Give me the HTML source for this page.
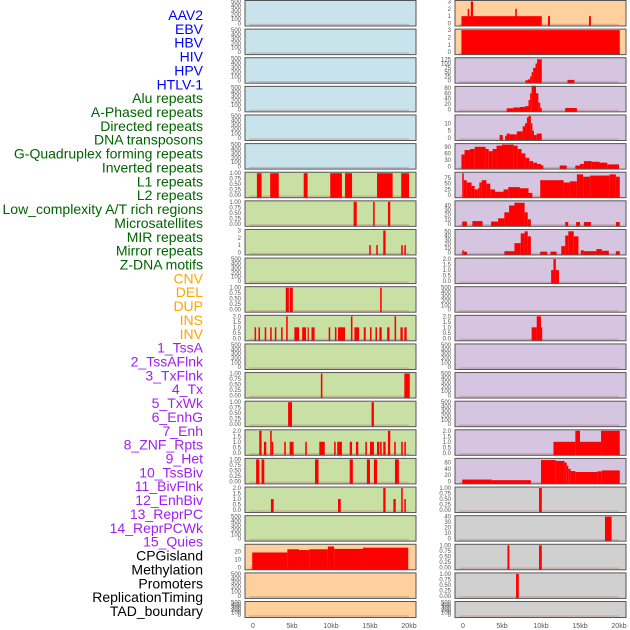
<!DOCTYPE html>
<html><head><meta charset="utf-8">
<style>
html,body{margin:0;padding:0;background:#fff;}
svg{display:block;font-family:"Liberation Sans",sans-serif;}
</style></head>
<body>
<svg id="chart" width="630" height="630" viewBox="0 0 630 630" xmlns="http://www.w3.org/2000/svg"></svg>
<script>
// ---- labels ----
const labelNames = ["AAV2","EBV","HBV","HIV","HPV","HTLV-1","Alu repeats","A-Phased repeats","Directed repeats","DNA transposons","G-Quadruplex forming repeats","Inverted repeats","L1 repeats","L2 repeats","Low_complexity A/T rich regions","Microsatellites","MIR repeats","Mirror repeats","Z-DNA motifs","CNV","DEL","DUP","INS","INV","1_TssA","2_TssAFlnk","3_TxFlnk","4_Tx","5_TxWk","6_EnhG","7_Enh","8_ZNF_Rpts","9_Het","10_TssBiv","11_BivFlnk","12_EnhBiv","13_ReprPC","14_ReprPCWk","15_Quies","CPGisland","Methylation","Promoters","ReplicationTiming","TAD_boundary"];
const labelColors = ["#0000ff","#0000ff","#0000ff","#0000ff","#0000ff","#0000ff","#006400","#006400","#006400","#006400","#006400","#006400","#006400","#006400","#006400","#006400","#006400","#006400","#006400","#ffa500","#ffa500","#ffa500","#ffa500","#ffa500","#a020f0","#a020f0","#a020f0","#a020f0","#a020f0","#a020f0","#a020f0","#a020f0","#a020f0","#a020f0","#a020f0","#a020f0","#a020f0","#a020f0","#a020f0","#000","#000","#000","#000","#000"];

// ---- x axis ----
const xTickValues = [0,5,10,15,20];
const xTickLabels = ["0","5kb","10kb","15kb","20kb"];

// ---- y-axis tick sets ----
const ticksEmpty = [0,100,200,300,400,500];
const ticksUnit = [0,0.25,0.5,0.75,1];
const ticksTwo = [0,0.5,1,1.5,2];
const ticksThree = [0,1,2,3];

// ---- left column segments [startKb, endKb, value] ----
const segL7 = [[0.5,1.1,1],[2.2,3.3,1],[6.5,7.0,1],[9.9,11.4,1],[11.8,12.7,1],[15.9,17.9,1],[19.0,20.0,1]];
const segL8 = [[12.9,13.3,1],[15.4,15.6,1],[17.3,17.6,1]];
const segL9 = [[14.9,15.1,1],[15.8,16.0,1],[16.7,17.0,3],[19.0,19.2,1],[19.4,19.6,1]];
const segL11 = [[4.2,4.6,1],[4.7,5.1,1],[16.3,16.5,1]];
const segL12 = [[0.2,0.4,1],[0.7,0.9,1],[1.5,1.7,1],[2.2,2.4,1],[2.8,3.0,1],[3.6,3.8,1],[4.25,4.45,2],[5.3,5.9,1],[6.3,6.8,1],[7.0,7.15,1],[7.5,7.9,1],[9.7,9.9,1],[10.5,10.7,1],[10.9,11.8,1],[12.55,12.75,2],[13.0,13.6,1],[14.2,14.45,1],[15.0,15.2,1],[15.7,15.9,1],[16.2,16.5,1],[17.2,17.5,1],[18.15,18.35,2],[18.9,19.2,1],[19.4,19.7,1]];
const segL14 = [[8.7,8.9,1],[19.4,20.1,1]];
const segL15 = [[4.5,5.0,1],[15.2,15.5,1]];
const segL16 = [[0.8,1.1,2],[1.4,1.7,1],[2.2,2.4,2],[2.4,2.6,1],[4.0,4.2,1],[4.7,5.2,1],[6.7,6.9,1],[8.5,9.2,1],[10.4,10.6,1],[10.8,11.4,1],[12.4,12.7,1],[13.2,13.5,1],[14.4,14.6,1],[15.0,15.5,1],[15.9,16.2,1],[16.3,16.5,1],[16.7,17.0,1],[17.3,17.6,2],[18.1,18.3,1],[19.0,19.2,1],[19.4,19.6,1]];
const segL17 = [[0.4,0.8,1],[1.1,1.45,1],[7.95,8.4,1],[12.4,12.8,1],[14.6,15.0,1],[15.5,15.9,1],[18.2,18.7,1]];
const segL18 = [[2.3,2.65,1],[10.9,11.25,1],[16.7,17.0,2],[18.0,18.3,1],[19.0,19.2,2],[19.4,19.6,1]];
const segL20 = [[-0.1,4.4,18.5],[4.4,5.9,22.5],[5.9,7.2,21.5],[7.2,9.6,22.5],[9.6,10.4,26],[10.4,14.1,23],[14.1,19.9,24.5]];

// ---- right column segments ----
const segR1 = [[-0.2,10.1,1],[0.6,0.8,2],[1.0,1.3,3],[6.7,6.9,2],[10.9,11.15,1],[16.15,16.4,1]];
const segR2 = [[-0.2,20.1,3]];
const segR3 = [[8.0,8.3,3],[8.3,8.6,8],[8.6,8.8,25],[8.8,9.0,50],[9.0,9.3,75],[9.3,9.5,100],[9.5,10.1,125],[13.4,14.3,5]];
const segR4 = [[5.6,6.45,4],[6.45,7.3,7],[7.3,7.95,9],[7.95,8.4,12],[8.4,8.6,35],[8.6,8.8,60],[8.8,9.36,88],[9.36,9.66,60],[9.66,9.9,25],[9.9,10.1,5],[13.1,14.6,5]];
const segR5 = [[4.7,5.1,2],[5.4,5.6,1.5],[5.6,6.0,3],[6.0,6.9,2.5],[6.9,7.65,4.5],[7.65,7.95,8],[7.95,8.2,10],[8.2,8.4,14],[8.4,8.7,15],[8.7,8.9,10],[8.9,9.1,5],[9.1,9.45,2],[9.45,10.1,3]];
const segR6 = [[-0.2,0.2,55],[0.2,0.9,75],[0.9,1.5,80],[1.5,2.9,90],[2.9,3.3,80],[3.3,3.8,70],[3.8,4.3,80],[4.3,5.0,95],[5.0,6.5,100],[6.5,7.0,95],[7.0,7.5,80],[7.5,8.0,60],[8.0,8.5,40],[8.5,9.0,25],[9.0,9.5,18],[9.5,10.0,12],[10.0,10.3,6],[12.4,13.3,5],[14.4,15.0,5],[15.0,15.5,12],[15.5,16.5,25],[16.5,17.5,22],[17.5,18.5,18],[18.5,20.0,10]];
const segR7 = [[-0.1,0.1,95],[0.1,0.47,65],[0.47,1.1,55],[1.1,1.5,40],[1.5,1.9,25],[1.9,2.1,30],[2.1,2.4,55],[2.4,3.0,65],[3.0,3.5,50],[3.5,4.1,25],[4.1,5.2,15],[5.2,5.8,25],[5.8,7.3,35],[7.3,8.4,30],[8.4,8.9,10],[9.9,12.9,65],[12.9,13.7,55],[13.7,14.6,60],[14.6,15.4,90],[15.4,16.3,80],[16.3,18.8,85],[18.8,19.6,90],[19.6,20.1,80]];
const segR8 = [[-0.1,0.5,5],[1.2,2.5,6],[3.6,4.5,5],[4.5,5.3,12],[5.3,5.9,25],[5.9,6.6,40],[6.6,7.9,46],[7.9,8.3,25],[8.3,8.7,10],[13.1,13.5,4],[14.5,15.0,4],[15.5,16.4,4],[19.6,20.1,4]];
const segR9 = [[-0.1,0.1,5],[0.1,0.5,2],[5.3,6.6,3],[6.6,7.4,22],[7.4,7.9,45],[7.9,8.3,50],[8.3,8.7,38],[9.9,10.8,2],[11.2,12.0,2],[12.6,13.1,15],[13.1,13.5,40],[13.5,14.2,50],[14.2,14.8,38],[15.1,15.5,5],[15.5,17.1,3],[17.1,17.8,8],[17.8,18.7,4],[19.6,20.1,3]];
const segR10 = [[11.3,11.6,1],[11.6,11.9,2],[11.9,12.3,1]];
const segR12 = [[8.8,9.45,1],[9.45,10.0,2],[10.0,10.1,1]];
const segR16 = [[11.6,14.4,1],[14.4,15.0,2],[15.0,17.7,1],[17.7,20.1,2]];
const segR17 = [[-0.1,3.7,6],[3.7,8.7,4],[10.0,11.9,68],[11.9,13.0,65],[13.0,13.3,60],[13.3,13.5,50],[13.5,13.8,40],[13.8,14.4,33],[14.4,17.2,30],[17.2,17.8,32],[17.8,20.1,35]];
const segR18 = [[9.75,10.1,1]];
const segR19 = [[18.2,19.05,40]];
const segR20 = [[5.7,5.95,1],[9.75,10.1,1]];
const segR21 = [[6.8,7.15,1]];

const BLUE="#c8e3eb", GREEN="#c8e0a4", PEACH="#fdd09e", PURP="#d5c5e0", GRAY="#d0d0d0";
const leftPanels = [
 [BLUE,500,ticksEmpty,[]],[BLUE,500,ticksEmpty,[]],[BLUE,500,ticksEmpty,[]],[BLUE,500,ticksEmpty,[]],[BLUE,500,ticksEmpty,[]],[BLUE,500,ticksEmpty,[]],
 [GREEN,1,ticksUnit,segL7],[GREEN,1,ticksUnit,segL8],[GREEN,3,ticksThree,segL9],[GREEN,500,ticksEmpty,[]],
 [GREEN,1,ticksUnit,segL11],[GREEN,2,ticksTwo,segL12],[GREEN,500,ticksEmpty,[]],[GREEN,1,ticksUnit,segL14],[GREEN,1,ticksUnit,segL15],
 [GREEN,2,ticksTwo,segL16],[GREEN,1,ticksUnit,segL17],[GREEN,2,ticksTwo,segL18],[GREEN,500,ticksEmpty,[]],
 [PEACH,27.5,[0,10,20],segL20],[PEACH,500,ticksEmpty,[]],[PEACH,500,ticksEmpty,[]]
];
const rightPanels = [
 [PEACH,3,ticksThree,segR1],[PEACH,3,ticksThree,segR2],[PURP,128,[0,25,50,75,100,125],segR3],[PURP,82,[0,20,40,60,80],segR4],
 [PURP,15,[0,5,10],segR5],[PURP,100,[0,30,60,90],segR6],[PURP,95,[0,25,50,75],segR7],[PURP,48,[0,10,20,30,40],segR8],
 [PURP,52,[0,10,20,30,40,50],segR9],[PURP,2,ticksTwo,segR10],[PURP,500,ticksEmpty,[]],[PURP,2,ticksTwo,segR12],
 [PURP,500,ticksEmpty,[]],[PURP,500,ticksEmpty,[]],[PURP,500,ticksEmpty,[]],[PURP,2,ticksTwo,segR16],[PURP,70,[0,20,40,60],segR17],
 [GRAY,1,ticksUnit,segR18],[GRAY,40,[0,10,20,30,40],segR19],[GRAY,1,ticksUnit,segR20],[GRAY,1,ticksUnit,segR21],[GRAY,500,ticksEmpty,[]]
];

const NS="http://www.w3.org/2000/svg";
const svg=document.getElementById('chart');
function mk(tag,attrs,parent){const e=document.createElementNS(NS,tag);for(const k in attrs)e.setAttribute(k,attrs[k]);(parent||svg).appendChild(e);return e;}

labelNames.forEach((t,i)=>{
  const el=mk('text',{x:203,y:20+i*13.86,'text-anchor':'end','font-size':'14',fill:labelColors[i]});
  el.textContent=t;
  
  
});

function rowTop(i){return 0.5+i*28.62;}
function rowH(i){return i===21?16:25.5;}
function fmt(v,ticks){
  if(ticks===ticksUnit) return v.toFixed(2);
  if(ticks===ticksTwo) return v.toFixed(1);
  return String(v);
}
function drawCol(panels,x0,x1,zeroX,side){
  const kbScale=7.8;
  const xs=kb=>zeroX+kb*kbScale;
  panels.forEach((p,i)=>{
    const [bg,ymax,ticks,segs]=p;
    const top=rowTop(i),h=rowH(i),bottom=top+h;
    const y0=bottom-2.5, yT=top+1;
    const ys=v=>y0-(v/ymax)*(y0-yT);
    const g=mk('g',{});
    
    
    const r=mk('rect',{x:x0,y:top,width:x1-x0,height:h,fill:bg},g);
    
    
    const bl=mk('line',{x1:xs(-0.5),x2:xs(20),y1:y0+1,y2:y0+1,stroke:'#b07070','stroke-width':1.5,opacity:0.35},g);
    
    
    segs.forEach(s=>{
      const b=mk('rect',{x:xs(s[0]),y:ys(s[2]),width:Math.max(1.2,xs(s[1])-xs(s[0])),height:bottom-ys(s[2]),fill:'#ff0000'},g);
      
      
    });
    const bd=mk('rect',{x:x0,y:top,width:x1-x0,height:h,fill:'none',stroke:'#555','stroke-width':1},g);
    
    
    ticks.forEach(v=>{
      const t=mk('text',{x:x0-4,y:ys(v)+2,'text-anchor':'end','font-size':'6',fill:'#555'},g);
      t.textContent=fmt(v,ticks);
      
      
    });
  });
  xTickValues.forEach((v,k)=>{
    const t=mk('text',{x:xs(v),y:628,'text-anchor':'middle','font-size':'7',fill:'#555'});
    t.textContent=xTickLabels[k];
    
    
  });
}
drawCol(leftPanels,245,416,253,'left');
drawCol(rightPanels,455,626,463,'right');
</script>
</body></html>
